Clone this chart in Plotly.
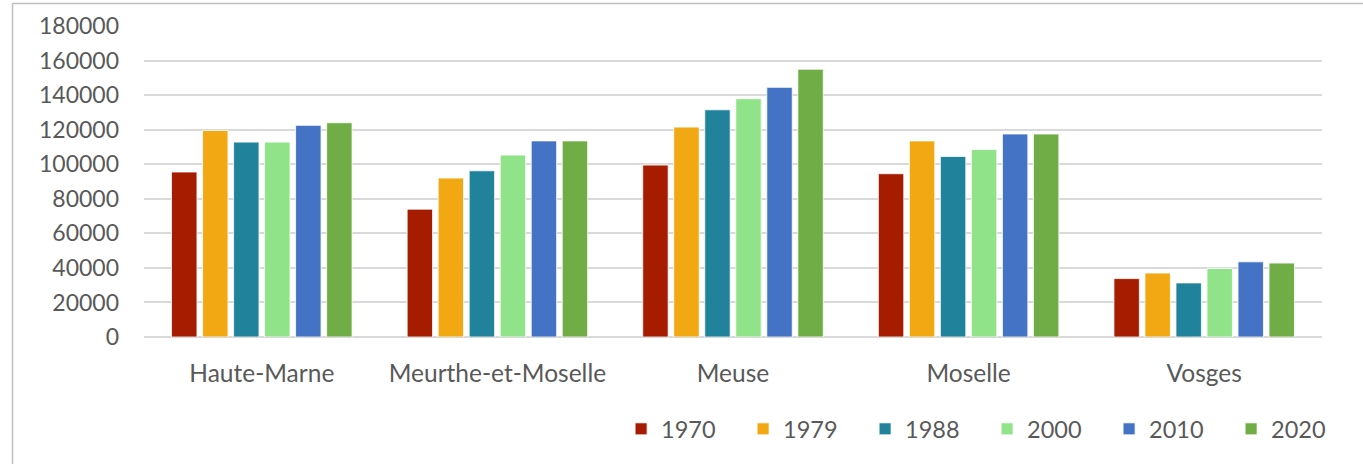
import plotly.graph_objects as go

departements = ["Haute-Marne", "Meurthe-et-Moselle", "Meuse", "Moselle", "Vosges"]
annees = ["1970", "1979", "1988", "2000", "2010", "2020"]

v1970 = [95500, 74000, 99500, 94500, 33800]
v1979 = [119500, 92000, 121500, 113500, 37000]
v1988 = [112800, 96200, 131500, 104500, 31300]
v2000 = [112800, 105300, 137900, 108500, 39700]
v2010 = [122500, 113500, 144500, 117500, 43500]
v2020 = [124000, 113500, 155000, 117500, 42800]

couleurs = ["#A61C00", "#F2A813", "#21839B", "#90E388", "#4472C4", "#70AD47"]

series = [v1970, v1979, v1988, v2000, v2010, v2020]

fig = go.Figure()
for annee, vals, col in zip(annees, series, couleurs):
    fig.add_trace(go.Bar(
        x=departements, y=vals, name=annee,
        marker=dict(color=col, line=dict(color="rgba(255,255,255,0.8)", width=1)),
    ))

font_family = "Lato, Calibri, Carlito, sans-serif"
gris = "#595959"

fig.update_layout(
    width=1363, height=464,
    margin=dict(l=144, r=41, t=26, b=127, autoexpand=False),
    paper_bgcolor="white", plot_bgcolor="white",
    barmode="group", bargap=0.21, bargroupgap=0.18,
    font=dict(family=font_family, size=23, color=gris),
    showlegend=True,
    legend=dict(
        orientation="h", x=0.405, xanchor="left", y=-0.296, yanchor="middle",
        font=dict(family=font_family, size=23.5, color=gris),
        entrywidth=77, entrywidthmode="pixels", traceorder="normal",
        bgcolor="rgba(0,0,0,0)",
    ),
    xaxis=dict(
        showgrid=False, showline=False, ticks="", zeroline=False,
        tickfont=dict(family=font_family, size=24.5, color=gris),
        ticklabelstandoff=19,
    ),
    yaxis=dict(
        range=[0, 180000], dtick=20000, tick0=0,
        showgrid=True, gridcolor="#D9D9D9", gridwidth=2,
        zeroline=True, zerolinecolor="#D9D9D9", zerolinewidth=2,
        showline=False, ticks="", tickformat="d",
        tickfont=dict(family=font_family, size=23, color=gris),
        ticklabelstandoff=24,
    ),
    shapes=[
        dict(type="line", xref="paper", yref="paper",
             x0=(12.5 - 144) / 1178, x1=(1363 - 144) / 1178,
             y0=(337 - 3.5) / 311, y1=(337 - 3.5) / 311,
             line=dict(color="#BFBFBF", width=1.5), layer="below"),
        dict(type="line", xref="paper", yref="paper",
             x0=(12.5 - 144) / 1178, x1=(12.5 - 144) / 1178,
             y0=(337 - 3.5) / 311, y1=(337 - 470) / 311,
             line=dict(color="#BFBFBF", width=1.5), layer="below"),
    ],
)

fig.write_html("out.html", config={"displayModeBar": False},
               post_script="document.body.style.margin='0';document.body.style.padding='0';")
